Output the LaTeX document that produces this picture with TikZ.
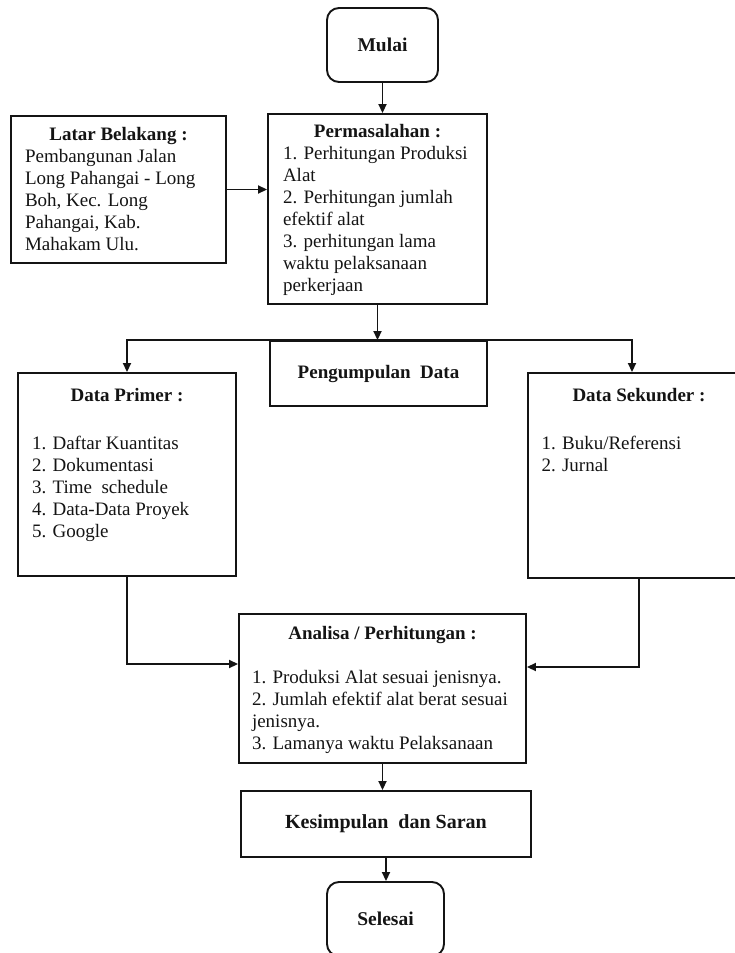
\documentclass[tikz,border=0pt]{standalone}
\usepackage{fontspec}
\setmainfont{Liberation Serif}
\usetikzlibrary{arrows.meta}
\definecolor{chartink}{HTML}{141414}

\begin{document}
\begin{tikzpicture}[
  x=1pt,
  y=-1pt,
  every node/.style={font=\fontsize{19}{22}\selectfont, text=chartink},
  box/.style={draw=chartink, line width=1.9pt, rectangle},
  terminal/.style={draw=chartink, line width=1.9pt, rectangle,
    rounded corners=12pt, font=\fontsize{19.5}{22}\selectfont\bfseries},
  flow/.style={draw=chartink, line width=1.8pt, -{Triangle[length=9pt, width=8pt]}},
  link/.style={draw=chartink, line width=1.8pt}
]
\useasboundingbox (0,0) rectangle (735,953);

% =====================================================================
% start, background and problem statement
% =====================================================================
\node[terminal, minimum width=111pt, minimum height=74pt] (mulai)
  at (382.5,45) {Mulai};

\node[box, inner xsep=14pt, inner ysep=11.2pt] (latar) at (118.5,189.5)
  {\parbox[c][124.6pt][t]{187pt}{\raggedright
    {\centering\bfseries Latar Belakang :\par}
    Pembangunan Jalan\\
    Long Pahangai - Long\\
    Boh, Kec. Long\\
    Pahangai, Kab.\\
    Mahakam Ulu.}};

\node[box, inner xsep=15pt, inner ysep=10.2pt] (masalah) at (377.5,209)
  {\parbox[c][169.6pt][t]{189pt}{\raggedright
    {\centering\bfseries Permasalahan :\par}
    1. Perhitungan Produksi\\
    Alat\\
    2. Perhitungan jumlah\\
    efektif alat\\
    3. perhitungan lama\\
    waktu pelaksanaan\\
    perkerjaan}};

% =====================================================================
% data collection
% =====================================================================
\node[box, minimum width=217pt, minimum height=65pt] (kumpul)
  at (378.5,373.5) {\bfseries Pengumpulan~~Data};

\node[box, inner xsep=14pt, inner ysep=15.2pt] (primer) at (127,474.5)
  {\parbox[c][172.6pt][t]{190pt}{\raggedright
    {\centering\bfseries Data Primer :\par}
    \vspace{26pt}
    1. Daftar Kuantitas\\
    2. Dokumentasi\\
    3. Time~~schedule\\
    4. Data-Data Proyek\\
    5. Google}};

\node[box, inner xsep=13.5pt, inner ysep=15.2pt] (sekunder) at (639,475.5)
  {\parbox[c][174.6pt][t]{195pt}{\raggedright
    {\centering\bfseries Data Sekunder :\par}
    \vspace{26pt}
    1. Buku/Referensi\\
    2. Jurnal}};

% =====================================================================
% analysis, conclusion, end
% =====================================================================
\node[box, inner xsep=13pt, inner ysep=12.2pt] (analisa) at (382.5,688.5)
  {\parbox[c][124.6pt][t]{261pt}{\raggedright
    {\centering\bfseries Analisa / Perhitungan :\par}
    \vspace{22pt}
    1. Produksi Alat sesuai jenisnya.\\
    2. Jumlah efektif alat berat sesuai\\
    jenisnya.\\
    3. Lamanya waktu Pelaksanaan}};

\node[box, minimum width=290pt, minimum height=66pt] (simpul)
  at (386,824) {\fontsize{20}{22}\selectfont\bfseries Kesimpulan~~dan Saran};

\node[terminal, minimum width=117pt, minimum height=74pt] (selesai)
  at (385.5,919) {Selesai};

% connectors
\draw[flow] (mulai.south) -- (mulai.south |- masalah.north);
\draw[flow] (latar.east) -- (latar.east -| masalah.west);
\draw[flow] (masalah.south) -- (masalah.south |- kumpul.north);
\draw[flow] (kumpul.north) -| (primer.north);
\draw[flow] (kumpul.north) -| ([xshift=-7pt]sekunder.north);
\draw[flow] (primer.south) |- ([yshift=24.5pt]analisa.west);
\draw[flow] (sekunder.south) |- ([yshift=21.5pt]analisa.east);
\draw[flow] (analisa.south) -- (analisa.south |- simpul.north);
\draw[flow] (simpul.south) -- (simpul.south |- selesai.north);

\end{tikzpicture}
\end{document}
